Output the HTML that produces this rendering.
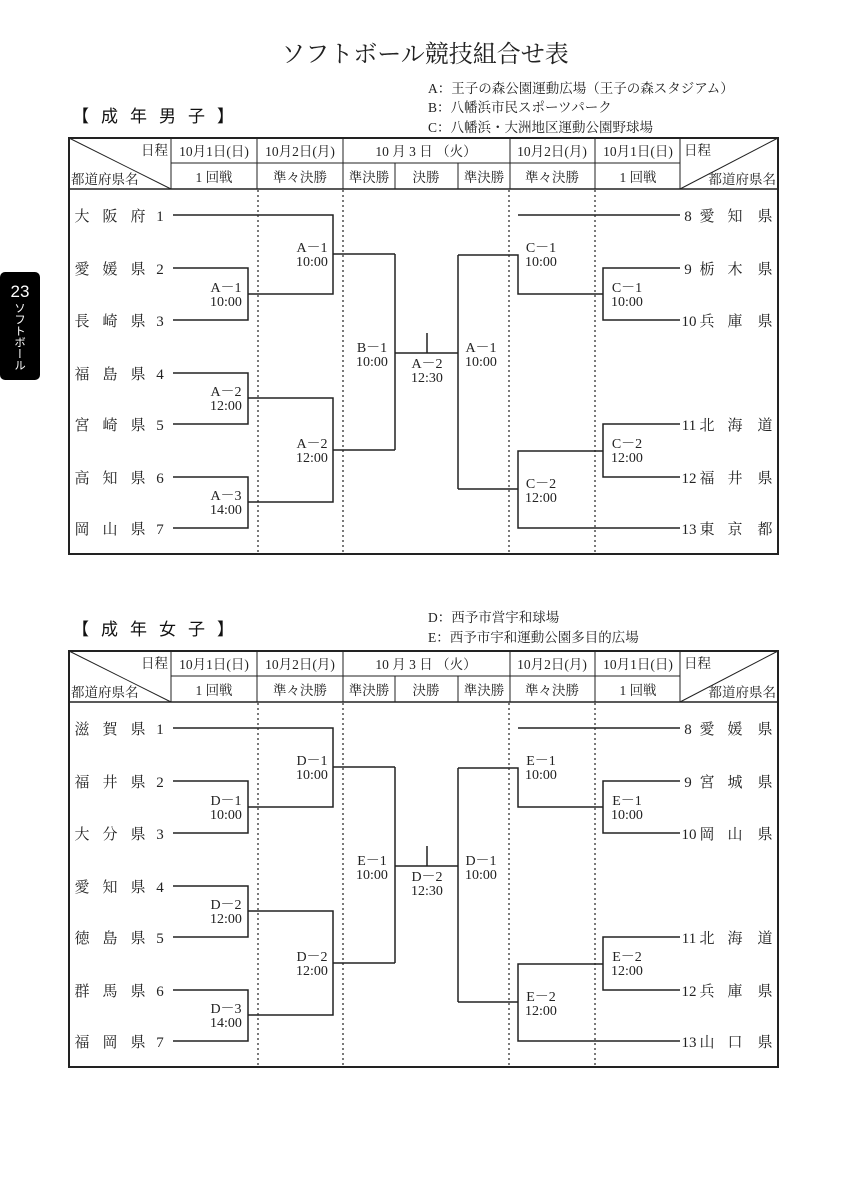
<!DOCTYPE html>
<html><head><meta charset="utf-8"><style>
html,body{margin:0;padding:0;background:#fff;}
svg{display:block;font-family:"Liberation Serif","Noto Serif CJK SC",serif;}
</style></head><body>
<svg width="846" height="1200" viewBox="0 0 846 1200" xmlns="http://www.w3.org/2000/svg">
<rect width="846" height="1200" fill="#fff"/>
<text x="425" y="62" font-size="24" text-anchor="middle" fill="#222">ソフトボール競技組合せ表</text>
<text x="428" y="93" font-size="13.5" fill="#222">A：王子の森公園運動広場（王子の森スタジアム）</text>
<text x="428" y="112" font-size="13.5" fill="#222">B：八幡浜市民スポーツパーク</text>
<text x="428" y="132" font-size="13.5" fill="#222">C：八幡浜・大洲地区運動公園野球場</text>
<text x="72" y="122" font-size="17" fill="#111" font-family="Liberation Sans,Noto Sans CJK JP,sans-serif" letter-spacing="12">【成年男子】</text>
<text x="428" y="622" font-size="13.5" fill="#222">D：西予市営宇和球場</text>
<text x="428" y="642" font-size="13.5" fill="#222">E：西予市宇和運動公園多目的広場</text>
<text x="72" y="635" font-size="17" fill="#111" font-family="Liberation Sans,Noto Sans CJK JP,sans-serif" letter-spacing="12">【成年女子】</text>

<rect x="0" y="272" width="40" height="108" rx="5" fill="#000"/>
<text x="20" y="297" font-size="17" fill="#fff" text-anchor="middle" font-family="Liberation Sans,sans-serif">23</text>
<text x="20" y="302" font-size="11.5" fill="#fff" font-family="Noto Sans CJK JP,sans-serif" style="writing-mode:vertical-rl" text-anchor="start">ソフトボール</text>

<defs>
<g id="frame" fill="none" stroke="#222">
<rect x="69" y="138" width="709" height="416" stroke-width="2"/>
<line x1="69" y1="189" x2="778" y2="189" stroke-width="1.5"/>
<line x1="171" y1="163" x2="680" y2="163"/>
<line x1="69" y1="138" x2="171" y2="189"/>
<line x1="680" y1="189" x2="778" y2="138"/>
<line x1="171" y1="138" x2="171" y2="189"/>
<line x1="257" y1="138" x2="257" y2="189"/>
<line x1="343" y1="138" x2="343" y2="189"/>
<line x1="395" y1="163" x2="395" y2="189"/>
<line x1="458" y1="163" x2="458" y2="189"/>
<line x1="510" y1="138" x2="510" y2="189"/>
<line x1="595" y1="138" x2="595" y2="189"/>
<line x1="680" y1="138" x2="680" y2="189"/>
<g stroke-dasharray="2,3" stroke-width="1.2">
<line x1="258" y1="190" x2="258" y2="553"/>
<line x1="343" y1="190" x2="343" y2="553"/>
<line x1="509" y1="190" x2="509" y2="553"/>
<line x1="595" y1="190" x2="595" y2="553"/>
</g>
<g stroke-width="1.5">
<path d="M173 215H333V294H248M173 268H248V320H173M333 254H395"/>
<path d="M173 373H248V424H173M248 398H333V502H248M173 477H248V528H173M333 450H395"/>
<path d="M395 254V450M395 353H458M427 333V353M458 255V489"/>
<path d="M458 255H518V294H603M680 215H518M680 268H603V320H680"/>
<path d="M458 489H518V451H603M680 424H603V477H680M518 489V528H680"/>
</g>
</g>
<g id="hdr" font-size="13.5" fill="#222">
<text x="168" y="155" text-anchor="end">日程</text>
<text x="214" y="156" text-anchor="middle">10月1日(日)</text>
<text x="300" y="156" text-anchor="middle">10月2日(月)</text>
<text x="426" y="156" text-anchor="middle">10 月 3 日 （火）</text>
<text x="552" y="156" text-anchor="middle">10月2日(月)</text>
<text x="638" y="156" text-anchor="middle">10月1日(日)</text>
<text x="684" y="155">日程</text>
<text x="71" y="184">都道府県名</text>
<text x="214" y="182" text-anchor="middle">1 回戦</text>
<text x="300" y="182" text-anchor="middle">準々決勝</text>
<text x="369" y="182" text-anchor="middle">準決勝</text>
<text x="426" y="182" text-anchor="middle">決勝</text>
<text x="484" y="182" text-anchor="middle">準決勝</text>
<text x="552" y="182" text-anchor="middle">準々決勝</text>
<text x="638" y="182" text-anchor="middle">1 回戦</text>
<text x="776" y="184" text-anchor="end">都道府県名</text>
</g>
</defs>

<use href="#frame"/>
<use href="#hdr"/>
<use href="#frame" transform="translate(0,513)"/>
<use href="#hdr" transform="translate(0,513)"/>

<g font-size="15" fill="#222" text-anchor="middle">
<g><text x="82" y="221">大</text><text x="110" y="221">阪</text><text x="138" y="221">府</text><text x="160" y="221">1</text></g>
<g><text x="82" y="274">愛</text><text x="110" y="274">媛</text><text x="138" y="274">県</text><text x="160" y="274">2</text></g>
<g><text x="82" y="326">長</text><text x="110" y="326">崎</text><text x="138" y="326">県</text><text x="160" y="326">3</text></g>
<g><text x="82" y="379">福</text><text x="110" y="379">島</text><text x="138" y="379">県</text><text x="160" y="379">4</text></g>
<g><text x="82" y="430">宮</text><text x="110" y="430">崎</text><text x="138" y="430">県</text><text x="160" y="430">5</text></g>
<g><text x="82" y="483">高</text><text x="110" y="483">知</text><text x="138" y="483">県</text><text x="160" y="483">6</text></g>
<g><text x="82" y="534">岡</text><text x="110" y="534">山</text><text x="138" y="534">県</text><text x="160" y="534">7</text></g>
<g><text x="688" y="221">8</text><text x="707" y="221">愛</text><text x="735" y="221">知</text><text x="765" y="221">県</text></g>
<g><text x="688" y="274">9</text><text x="707" y="274">栃</text><text x="735" y="274">木</text><text x="765" y="274">県</text></g>
<g><text x="689" y="326">10</text><text x="707" y="326">兵</text><text x="735" y="326">庫</text><text x="765" y="326">県</text></g>
<g><text x="689" y="430">11</text><text x="707" y="430">北</text><text x="735" y="430">海</text><text x="765" y="430">道</text></g>
<g><text x="689" y="483">12</text><text x="707" y="483">福</text><text x="735" y="483">井</text><text x="765" y="483">県</text></g>
<g><text x="689" y="534">13</text><text x="707" y="534">東</text><text x="735" y="534">京</text><text x="765" y="534">都</text></g>
</g>
<g font-size="14" fill="#222" text-anchor="middle">
<text x="226" y="292">A－1</text><text x="226" y="306">10:00</text>
<text x="312" y="252">A－1</text><text x="312" y="266">10:00</text>
<text x="226" y="396">A－2</text><text x="226" y="410">12:00</text>
<text x="312" y="448">A－2</text><text x="312" y="462">12:00</text>
<text x="226" y="500">A－3</text><text x="226" y="514">14:00</text>
<text x="372" y="352">B－1</text><text x="372" y="366">10:00</text>
<text x="427" y="368">A－2</text><text x="427" y="382">12:30</text>
<text x="481" y="352">A－1</text><text x="481" y="366">10:00</text>
<text x="541" y="252">C－1</text><text x="541" y="266">10:00</text>
<text x="627" y="292">C－1</text><text x="627" y="306">10:00</text>
<text x="627" y="448">C－2</text><text x="627" y="462">12:00</text>
<text x="541" y="488">C－2</text><text x="541" y="502">12:00</text>
</g>

<g font-size="15" fill="#222" text-anchor="middle" transform="translate(0,513)">
<g><text x="82" y="221">滋</text><text x="110" y="221">賀</text><text x="138" y="221">県</text><text x="160" y="221">1</text></g>
<g><text x="82" y="274">福</text><text x="110" y="274">井</text><text x="138" y="274">県</text><text x="160" y="274">2</text></g>
<g><text x="82" y="326">大</text><text x="110" y="326">分</text><text x="138" y="326">県</text><text x="160" y="326">3</text></g>
<g><text x="82" y="379">愛</text><text x="110" y="379">知</text><text x="138" y="379">県</text><text x="160" y="379">4</text></g>
<g><text x="82" y="430">徳</text><text x="110" y="430">島</text><text x="138" y="430">県</text><text x="160" y="430">5</text></g>
<g><text x="82" y="483">群</text><text x="110" y="483">馬</text><text x="138" y="483">県</text><text x="160" y="483">6</text></g>
<g><text x="82" y="534">福</text><text x="110" y="534">岡</text><text x="138" y="534">県</text><text x="160" y="534">7</text></g>
<g><text x="688" y="221">8</text><text x="707" y="221">愛</text><text x="735" y="221">媛</text><text x="765" y="221">県</text></g>
<g><text x="688" y="274">9</text><text x="707" y="274">宮</text><text x="735" y="274">城</text><text x="765" y="274">県</text></g>
<g><text x="689" y="326">10</text><text x="707" y="326">岡</text><text x="735" y="326">山</text><text x="765" y="326">県</text></g>
<g><text x="689" y="430">11</text><text x="707" y="430">北</text><text x="735" y="430">海</text><text x="765" y="430">道</text></g>
<g><text x="689" y="483">12</text><text x="707" y="483">兵</text><text x="735" y="483">庫</text><text x="765" y="483">県</text></g>
<g><text x="689" y="534">13</text><text x="707" y="534">山</text><text x="735" y="534">口</text><text x="765" y="534">県</text></g>
</g>
<g font-size="14" fill="#222" text-anchor="middle" transform="translate(0,513)">
<text x="226" y="292">D－1</text><text x="226" y="306">10:00</text>
<text x="312" y="252">D－1</text><text x="312" y="266">10:00</text>
<text x="226" y="396">D－2</text><text x="226" y="410">12:00</text>
<text x="312" y="448">D－2</text><text x="312" y="462">12:00</text>
<text x="226" y="500">D－3</text><text x="226" y="514">14:00</text>
<text x="372" y="352">E－1</text><text x="372" y="366">10:00</text>
<text x="427" y="368">D－2</text><text x="427" y="382">12:30</text>
<text x="481" y="352">D－1</text><text x="481" y="366">10:00</text>
<text x="541" y="252">E－1</text><text x="541" y="266">10:00</text>
<text x="627" y="292">E－1</text><text x="627" y="306">10:00</text>
<text x="627" y="448">E－2</text><text x="627" y="462">12:00</text>
<text x="541" y="488">E－2</text><text x="541" y="502">12:00</text>
</g>
</svg>
</body></html>
